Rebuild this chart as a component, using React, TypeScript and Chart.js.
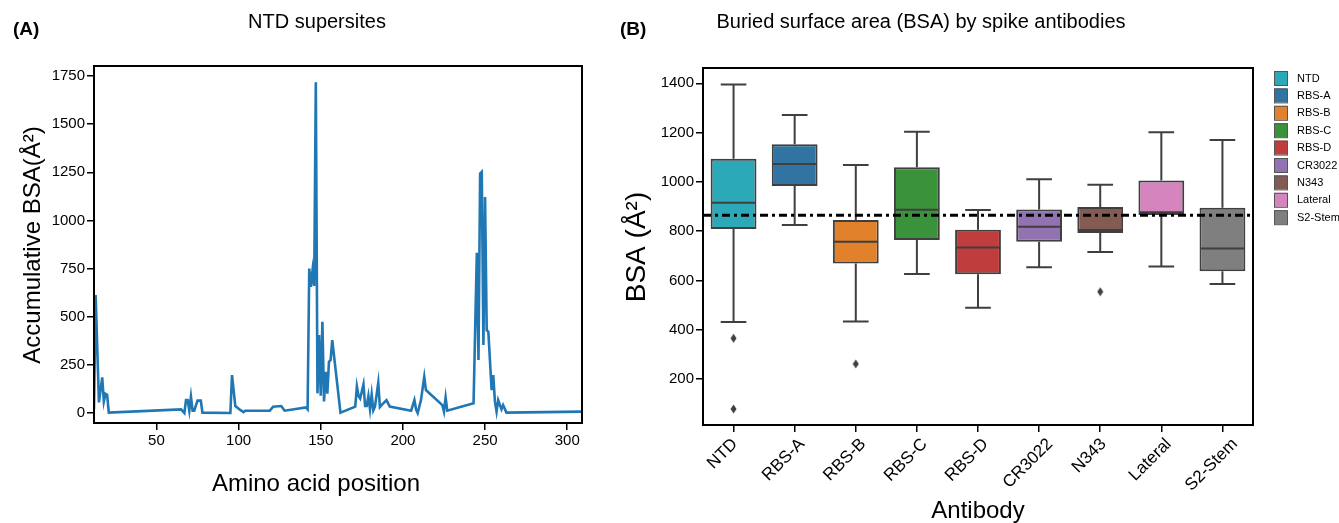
import { useEffect, useRef } from "react";
import { Chart, registerables } from "chart.js";

Chart.register(...registerables);

const FONT = '"Liberation Sans", Arial, Helvetica, sans-serif';

// ---------- Panel A data ----------
const POSITIONS = [
  12, 13, 15, 17, 18, 19, 20, 21, 65, 67, 68, 69, 70, 71, 72, 73, 75, 77, 78, 95,
  96, 98, 101, 103, 104, 119, 121, 126, 128, 141, 142, 143, 144, 145, 146, 147, 148, 149, 150, 151,
  152, 153, 154, 155, 156, 157, 162, 171, 172, 173, 174, 176, 177, 178, 179, 180, 181, 182, 183, 185,
  186, 187, 190, 192, 205, 207, 208, 209, 211, 213, 214, 224, 225, 226, 227, 243, 245, 246, 247, 248,
  249, 250, 251, 252, 254, 255, 256, 257, 258, 260, 261, 263, 309,
];
const BSA_ACCUM = [
  20, 612, 55, 185, 60, 100, 95, 2, 19, 0, 67, 67, 12, 85, 12, 12, 64, 64, 2, 0,
  197, 36, 16, 5, 12, 12, 33, 36, 12, 29, 19, 750, 655, 740, 660, 1718, 102, 405, 90, 474,
  60, 214, 100, 266, 275, 378, 2, 33, 137, 88, 75, 149, 36, 36, 88, 19, 96, 14, 33, 157,
  31, 41, 67, 33, 12, 67, 19, 0, 67, 188, 119, 41, 7, 81, 12, 50, 832, 275, 1243, 1252,
  353, 1122, 430, 422, 119, 197, 60, 7, 67, 19, 41, 2, 7,
];
const X_TICKS_A = [50, 100, 150, 200, 250, 300];
const Y_TICKS_A = [0, 250, 500, 750, 1000, 1250, 1500, 1750];

// ---------- Panel B data ----------
const ANTIBODIES = ["NTD", "RBS-A", "RBS-B", "RBS-C", "RBS-D", "CR3022", "N343", "Lateral", "S2-Stem"];
const WHISKER_LOW = [431, 825, 433, 626, 489, 653, 715, 656, 585];
const Q1 = [809, 983, 669, 764, 625, 757, 792, 865, 637];
const MEDIAN = [915, 1072, 757, 887, 733, 818, 804, 877, 729];
const Q3 = [1094, 1153, 845, 1059, 805, 888, 898, 1005, 895];
const WHISKER_HIGH = [1395, 1271, 1068, 1203, 886, 1010, 988, 1201, 1170];
const OUTLIER_GROUP = ["NTD", "NTD", "RBS-B", "N343"];
const OUTLIER_VALUE = [365, 78, 261, 554];
const MEAN_BSA = 864;
const BOX_COLORS = ["#2ca9b8", "#3274a1", "#e1812c", "#3a923a", "#c03d3e", "#9372b2", "#845b53", "#d684bd", "#7f7f7f"];
const Y_TICKS_B = [200, 400, 600, 800, 1000, 1200, 1400];

const LINE_GRAY = "#3f3f3f";

const framePlugin = {
  id: "frame",
  afterDraw(chart: any) {
    const { ctx, chartArea } = chart;
    ctx.save();
    ctx.strokeStyle = "#000";
    ctx.lineWidth = 2;
    ctx.strokeRect(chartArea.left, chartArea.top, chartArea.right - chartArea.left, chartArea.bottom - chartArea.top);
    ctx.restore();
  },
};

function makeTextPlugin(items: { text: string; x: number; y: number; font: string; rotate?: boolean; align?: CanvasTextAlign }[]) {
  return {
    id: "texts",
    afterDraw(chart: any) {
      const ctx = chart.ctx;
      ctx.save();
      ctx.fillStyle = "#000";
      ctx.textBaseline = "middle";
      for (const it of items) {
        ctx.save();
        ctx.font = it.font;
        ctx.textAlign = it.align || "center";
        ctx.translate(it.x, it.y);
        if (it.rotate) ctx.rotate(-Math.PI / 2);
        ctx.fillText(it.text, 0, 0);
        ctx.restore();
      }
      ctx.restore();
    },
  };
}

const boxPlugin = {
  id: "boxWhiskers",
  afterDatasetsDraw(chart: any) {
    const meta = chart.getDatasetMeta(0);
    const y = chart.scales.y;
    const ctx = chart.ctx;
    ctx.save();
    ctx.strokeStyle = LINE_GRAY;
    ctx.lineWidth = 2;
    meta.data.forEach((bar: any, i: number) => {
      const { x, width } = bar.getProps(["x", "width"], true);
      const half = width / 2;
      const cap = width * 0.28;
      const yq1 = y.getPixelForValue(Q1[i]);
      const yq3 = y.getPixelForValue(Q3[i]);
      const ylo = y.getPixelForValue(WHISKER_LOW[i]);
      const yhi = y.getPixelForValue(WHISKER_HIGH[i]);
      const ymed = y.getPixelForValue(MEDIAN[i]);
      ctx.beginPath();
      ctx.moveTo(x, yq3);
      ctx.lineTo(x, yhi);
      ctx.moveTo(x - cap, yhi);
      ctx.lineTo(x + cap, yhi);
      ctx.moveTo(x, yq1);
      ctx.lineTo(x, ylo);
      ctx.moveTo(x - cap, ylo);
      ctx.lineTo(x + cap, ylo);
      ctx.moveTo(x - half + 1, ymed);
      ctx.lineTo(x + half - 1, ymed);
      ctx.stroke();
    });
    ctx.restore();
  },
};

const meanLinePlugin = {
  id: "meanLine",
  afterDraw(chart: any) {
    const { ctx, chartArea } = chart;
    const yy = chart.scales.y.getPixelForValue(MEAN_BSA);
    ctx.save();
    ctx.strokeStyle = "#000";
    ctx.lineWidth = 3;
    ctx.setLineDash([8, 4, 3, 4]);
    ctx.beginPath();
    ctx.moveTo(chartArea.left, yy);
    ctx.lineTo(chartArea.right, yy);
    ctx.stroke();
    ctx.restore();
  },
};

// Rotated category labels (45°), centred slightly left of their tick as in the reference
const rotatedLabelPlugin = {
  id: "rotatedLabels",
  afterDraw(chart: any) {
    const ctx = chart.ctx;
    const xs = chart.scales.x;
    const size = 17;
    const top = chart.chartArea.bottom + 7 + 4;
    ctx.save();
    ctx.font = `${size}px ${FONT}`;
    ctx.fillStyle = "#000";
    ctx.textAlign = "center";
    ctx.textBaseline = "middle";
    (chart.data.labels as string[]).forEach((lab, i) => {
      const x = xs.getPixelForTick(i) - 11;
      const w = ctx.measureText(lab).width;
      const h = size * 0.9;
      const d = (w + h) * Math.SQRT1_2;
      ctx.save();
      ctx.translate(x, top + d / 2);
      ctx.rotate(-Math.PI / 4);
      ctx.fillText(lab, 0, 0);
      ctx.restore();
    });
    ctx.restore();
  },
};

const legendPlugin = {
  id: "boxLegend",
  afterDraw(chart: any) {
    const ctx = chart.ctx;
    ctx.save();
    ctx.font = `11px ${FONT}`;
    ctx.textBaseline = "middle";
    ctx.textAlign = "left";
    ANTIBODIES.forEach((name, i) => {
      const top = 71 + i * 17.4;
      ctx.fillStyle = BOX_COLORS[i];
      ctx.fillRect(674, top, 13, 14);
      ctx.strokeStyle = "#555";
      ctx.lineWidth = 1;
      ctx.strokeRect(674.5, top + 0.5, 13, 14);
      ctx.fillStyle = "#000";
      ctx.fillText(name, 697, top + 7.5);
    });
    ctx.restore();
  },
};

function tickGrid() {
  return {
    display: true,
    drawOnChartArea: false,
    drawTicks: true,
    tickLength: 7,
    color: "#000",
    lineWidth: 1.5,
  };
}

const plainNumber = (v: any) => String(v);

export default function App() {
  const refA = useRef<HTMLCanvasElement>(null);
  const refB = useRef<HTMLCanvasElement>(null);

  useEffect(() => {
    Chart.defaults.font.family = FONT;
    Chart.defaults.color = "#000";

    const diamond = document.createElement("canvas");
    diamond.width = 7;
    diamond.height = 10;
    const dctx = diamond.getContext("2d")!;
    dctx.fillStyle = LINE_GRAY;
    dctx.beginPath();
    dctx.moveTo(3.5, 0.5);
    dctx.lineTo(6.5, 5);
    dctx.lineTo(3.5, 9.5);
    dctx.lineTo(0.5, 5);
    dctx.closePath();
    dctx.fill();

    const chartA = new Chart(refA.current!, {
      type: "line",
      data: {
        datasets: [
          {
            data: POSITIONS.map((p, i) => ({ x: p, y: BSA_ACCUM[i] })),
            borderColor: "#1f77b4",
            borderWidth: 2.6,
            pointRadius: 0,
            tension: 0,
            fill: false,
          },
        ],
      },
      options: {
        responsive: false,
        animation: false,
        devicePixelRatio: 1,
        events: [],
        layout: { padding: { top: 66, right: 18, left: 0, bottom: 0 } },
        plugins: { legend: { display: false }, tooltip: { enabled: false }, title: { display: false } },
        scales: {
          x: {
            type: "linear",
            min: 12,
            max: 309,
            border: { display: false },
            grid: tickGrid(),
            ticks: { font: { size: 15 }, color: "#000", padding: 2, callback: plainNumber },
            afterBuildTicks: (s: any) => {
              s.ticks = X_TICKS_A.map((v) => ({ value: v }));
            },
            afterFit: (s: any) => {
              s.height = 100;
            },
          },
          y: {
            type: "linear",
            min: -52,
            max: 1802,
            border: { display: false },
            grid: tickGrid(),
            ticks: { font: { size: 15 }, color: "#000", padding: 2, callback: plainNumber },
            afterBuildTicks: (s: any) => {
              s.ticks = Y_TICKS_A.map((v) => ({ value: v }));
            },
            afterFit: (s: any) => {
              s.width = 94;
            },
          },
        },
      },
      plugins: [
        framePlugin,
        makeTextPlugin([
          { text: "(A)", x: 13, y: 30, font: `bold 19px ${FONT}`, align: "left" },
          { text: "NTD supersites", x: 317, y: 22, font: `20px ${FONT}` },
          { text: "Accumulative BSA(Å²)", x: 33, y: 245, font: `24px ${FONT}`, rotate: true },
          { text: "Amino acid position", x: 316, y: 484, font: `24px ${FONT}` },
        ]),
      ],
    } as any);

    const chartB = new Chart(refB.current!, {
      type: "bar",
      data: {
        labels: ANTIBODIES,
        datasets: [
          {
            type: "bar",
            data: ANTIBODIES.map((_, i) => [Q1[i], Q3[i]]),
            backgroundColor: BOX_COLORS,
            borderColor: LINE_GRAY,
            borderWidth: 2,
            borderSkipped: false,
            barPercentage: 0.75,
            categoryPercentage: 1,
          },
          {
            type: "scatter",
            data: OUTLIER_GROUP.map((g, i) => ({ x: g, y: OUTLIER_VALUE[i] })),
            pointStyle: diamond,
            pointRadius: 4,
            showLine: false,
          },
        ],
      },
      options: {
        responsive: false,
        animation: false,
        devicePixelRatio: 1,
        events: [],
        layout: { padding: { top: 68, right: 86, left: 0, bottom: 0 } },
        plugins: { legend: { display: false }, tooltip: { enabled: false }, title: { display: false } },
        scales: {
          x: {
            type: "category",
            offset: true,
            border: { display: false },
            grid: { ...tickGrid(), offset: false },
            ticks: { display: false },
            afterFit: (s: any) => {
              s.height = 98;
            },
          },
          y: {
            type: "linear",
            min: 13,
            max: 1462,
            border: { display: false },
            grid: tickGrid(),
            ticks: { font: { size: 15 }, color: "#000", padding: 2, callback: plainNumber },
            afterBuildTicks: (s: any) => {
              s.ticks = Y_TICKS_B.map((v) => ({ value: v }));
            },
            afterFit: (s: any) => {
              s.width = 103;
            },
          },
        },
      },
      plugins: [
        boxPlugin,
        framePlugin,
        meanLinePlugin,
        rotatedLabelPlugin,
        legendPlugin,
        makeTextPlugin([
          { text: "(B)", x: 20, y: 30, font: `bold 19px ${FONT}`, align: "left" },
          { text: "Buried surface area (BSA) by spike antibodies", x: 321, y: 22, font: `20px ${FONT}` },
          { text: "BSA (Å²)", x: 37, y: 247, font: `28px ${FONT}`, rotate: true },
          { text: "Antibody", x: 378, y: 511, font: `24px ${FONT}` },
        ]),
      ],
    } as any);

    return () => {
      chartA.destroy();
      chartB.destroy();
    };
  }, []);

  return (
    <div style={{ position: "absolute", left: 0, top: 0, width: 1339, height: 523, background: "#fff", overflow: "hidden" }}>
      <canvas ref={refA} width={600} height={523} style={{ position: "absolute", left: 0, top: 0 }} />
      <canvas ref={refB} width={739} height={523} style={{ position: "absolute", left: 600, top: 0 }} />
    </div>
  );
}
